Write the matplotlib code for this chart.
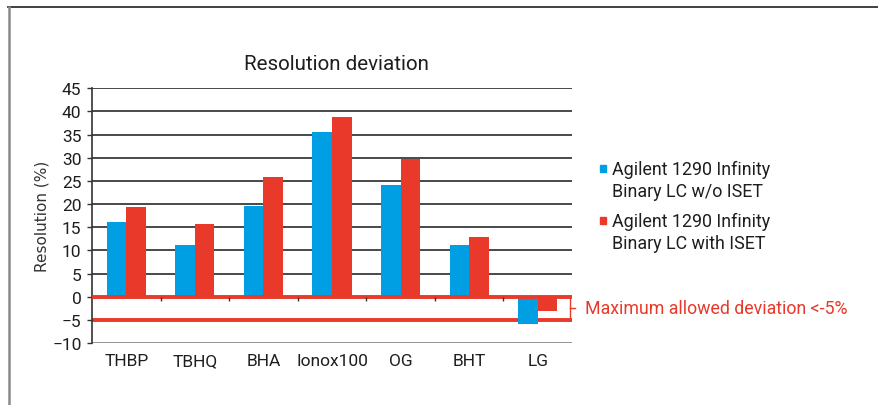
import numpy as np
import matplotlib
matplotlib.use("Agg")
import matplotlib.pyplot as plt
from matplotlib.lines import Line2D
from matplotlib.patches import Rectangle
import matplotlib.transforms as mtransforms

# data
compounds = ["THBP", "TBHQ", "BHA", "Ionox100", "OG", "BHT", "LG"]
without_iset = [16.2, 11.2, 19.6, 35.6, 24.2, 11.1, -5.9]
with_iset = [19.3, 15.8, 25.8, 38.8, 29.8, 12.9, -3.1]
series_labels = ["Agilent 1290 Infinity\nBinary LC w/o ISET",
                 "Agilent 1290 Infinity\nBinary LC with ISET"]
y_ticks = [-10, -5, 0, 5, 10, 15, 20, 25, 30, 35, 40, 45]
max_deviation = -5

BLUE = "#009fe3"
RED = "#e8392b"
NARROW = ["Roboto", "DejaVu Sans"]
TXT = dict(family=NARROW, weight="normal")

fig = plt.figure(figsize=(8.79, 4.06), dpi=100)
ax = fig.add_axes([0.1047, 0.1527, 0.546, 0.6273])

# outer frame of the figure panel
fig.add_artist(Line2D([0.009, 1.0], [0.98, 0.98], color="#333333", lw=1.3))
fig.add_artist(Line2D([0.0097, 0.0097], [0.0, 0.98], color="#8a8a8a", lw=1.8))

x = np.arange(len(compounds))
w = 0.285

# gridlines
for t in y_ticks:
    ax.axhline(t, color="#8a8a8a" if t == y_ticks[0] else "#3a3a3a",
               lw=1.3, zorder=1)

ax.bar(x - w / 2, without_iset, w, color=BLUE, zorder=2)
ax.bar(x + w / 2, with_iset, w, color=RED, zorder=2)

# allowed deviation box
ax.axhline(0, xmin=0, xmax=0.996, color=RED, lw=2.8, zorder=3)
ax.axhline(max_deviation, xmin=0, xmax=0.996, color=RED, lw=2.8, zorder=1.5)
trans = mtransforms.blended_transform_factory(ax.transAxes, ax.transData)
ax.add_line(Line2D([0.996, 0.996], [0, max_deviation], color=RED, lw=1.0,
                   transform=trans, clip_on=False))
ax.add_line(Line2D([0.996, 1.006], [max_deviation / 2, max_deviation / 2],
                   color=RED, lw=1.0, transform=trans, clip_on=False))
ax.text(1.027, max_deviation / 2, "Maximum allowed deviation <-5%",
        transform=trans, color=RED, fontsize=12.8, va="center", ha="left",
        clip_on=False, **TXT)

# small tick marks at category boundaries on the zero line
ax.plot(x[:-1] + 0.5, np.zeros(len(x) - 1), ls="none", marker=3,
        markersize=3, color="#333333", zorder=4)

ax.set_xlim(-0.5, len(compounds) - 0.5)
ax.set_ylim(y_ticks[0], y_ticks[-1])
ax.set_yticks(y_ticks)
ax.set_yticklabels([str(t).replace("-", "\u2212") for t in y_ticks],
                   fontsize=12.5, color="#1e1e1e", **TXT)
ax.set_xticks(x)
ax.set_xticklabels(compounds, fontsize=12.5, color="#1e1e1e", **TXT)
ax.tick_params(axis="x", length=0, pad=7)
ax.tick_params(axis="y", length=3.6, width=1, color="#333333", pad=4)
for s in ["top", "right", "bottom"]:
    ax.spines[s].set_visible(False)
ax.spines["left"].set_color("#333333")
ax.spines["left"].set_linewidth(1.2)

ax.set_ylabel("Resolution (%)", fontsize=11, color="#333333", labelpad=2)
ax.text(0.51, 1.075, "Resolution deviation", transform=ax.transAxes,
        fontsize=14.8, color="#1e1e1e", ha="center", va="baseline", **TXT)

# legend drawn by hand so the square sits on the first line of each label
for i, (lab, col) in enumerate(zip(series_labels, [BLUE, RED])):
    ty = 0.717 - i * 0.204
    ax.add_patch(Rectangle((1.058, ty - 0.045), 0.0125, 0.0275, color=col,
                           transform=ax.transAxes, clip_on=False))
    ax.text(1.083, ty, lab, transform=ax.transAxes, fontsize=12.9,
            color="#1e1e1e", va="top", ha="left", linespacing=1.22,
            clip_on=False, **TXT)

fig.savefig("out.png", dpi=100)
